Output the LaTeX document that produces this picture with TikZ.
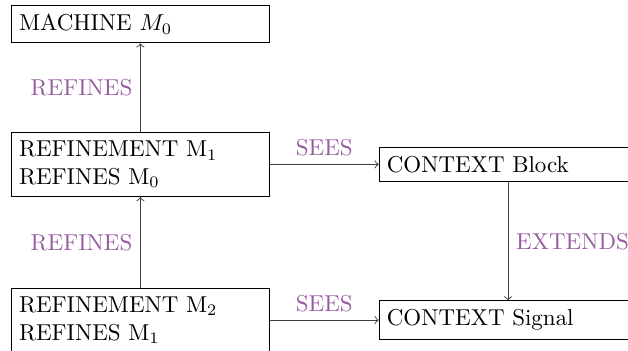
\documentclass[tikz,border=0pt]{standalone}
\usepackage{amsmath,amssymb}
\usepackage{tikz}
\usetikzlibrary{positioning}

\definecolor{relpurple}{RGB}{150,92,160}

\begin{document}
\begin{tikzpicture}[
  every node/.style={inner sep=3.33pt},
  blk/.style={draw=black, line width=0.4pt, text width=105.5pt,
              inner ysep=3.8pt, align=left, font=\normalsize},
  rel/.style={->, >=to, draw=black!75, line width=0.4pt},
  lab/.style={text=relpurple, font=\normalsize},
]
  \useasboundingbox (-4.8pt,2.2pt) rectangle (268.4pt,-150.1pt);
  \node[blk, anchor=north west] (m0) at (0,0) {MACHINE $M_0$};
  \node[blk, below=38.5pt of m0] (m1) {REFINEMENT M$_1$\\REFINES M$_0$};
  \node[blk, below=39.4pt of m1] (m2) {REFINEMENT M$_2$\\REFINES M$_1$};
  \node[blk, right=47.4pt of m1] (cb) {CONTEXT Block};
  \node[blk, right=47.4pt of m2] (cs) {CONTEXT Signal};
  \draw[rel] (m1) -- node[lab, midway, left] {REFINES} (m0);
  \draw[rel] (m2) -- node[lab, midway, left] {REFINES} (m1);
  \draw[rel] (m1) -- node[lab, midway, above] {SEES} (cb);
  \draw[rel] (m2) -- node[lab, midway, above] {SEES} (cs);
  \draw[rel] (cb) -- node[lab, midway, right] {EXTENDS} (cs);
\end{tikzpicture}
\end{document}
